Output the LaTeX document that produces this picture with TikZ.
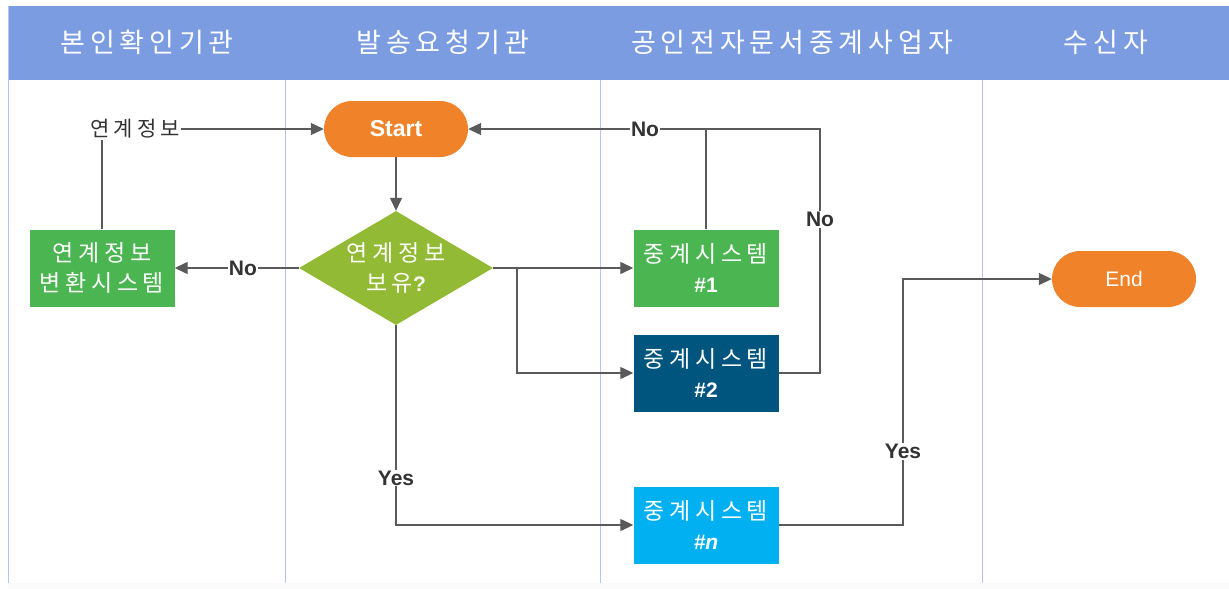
\documentclass[tikz,border=0pt]{standalone}
\usepackage{fontspec}
\setmainfont{Liberation Sans}
\newfontfamily\krhead[LetterSpace=18]{Noto Sans CJK KR}
\newfontfamily\krbox[LetterSpace=20]{Noto Sans CJK KR}
\newfontfamily\krlab[LetterSpace=20]{Noto Sans CJK KR}
\newcommand\latb{\normalfont\bfseries\fontsize{21}{24}\selectfont}
\usetikzlibrary{arrows.meta,shapes.geometric,shapes.misc}
\definecolor{headblue}{HTML}{7B9CE0}
\definecolor{laneline}{HTML}{B7C4EC}
\definecolor{orng}{HTML}{F0832A}
\definecolor{gbox}{HTML}{4BB551}
\definecolor{dgreen}{HTML}{92BA34}
\definecolor{dblue}{HTML}{00557F}
\definecolor{cyanb}{HTML}{00B0F0}
\definecolor{conn}{HTML}{5A5A5A}
\definecolor{lbl}{HTML}{333333}
\tikzset{
  headtxt/.style={text=white,font=\krhead\fontsize{27}{30}\selectfont},
  term/.style={rounded rectangle,fill=orng,minimum width=144pt,minimum height=56pt,text=white,inner sep=0pt},
  sysbox/.style={rectangle,minimum width=145pt,minimum height=77pt,text=white,align=center,inner sep=0pt,font=\krbox\fontsize{23}{30}\selectfont},
  decision/.style={diamond,fill=dgreen,minimum width=194pt,minimum height=114pt,aspect=1.7,inner sep=0pt,text=white,align=center,font=\krbox\fontsize{23}{30}\selectfont},
  cline/.style={draw=conn,line width=1.3pt},
  carrow/.style={cline,-{Triangle[length=13pt,width=12pt]}},
  lab/.style={text=lbl,font=\latb,fill=white,inner sep=1pt}
}
\begin{document}
\begin{tikzpicture}[x=1pt,y=-1pt]
\useasboundingbox (0,0) rectangle (1229,589);
\fill[white] (0,0) rectangle (1229,589);
% lanes
\fill[headblue] (8,6) rectangle (1229,80);
\draw[laneline,line width=0.8pt] (8,6) -- (8,587);
\draw[laneline,line width=0.8pt] (285,80) -- (285,589);
\draw[laneline,line width=0.8pt] (600,80) -- (600,589);
\draw[laneline,line width=0.8pt] (982,80) -- (982,589);
\fill[black!1.5] (8,583) rectangle (1229,589);
\node[headtxt] (h1) at (147,42) {본인확인기관};
\node[headtxt] (h2) at (443,42) {발송요청기관};
\node[headtxt] (h3) at (792,42) {공인전자문서중계사업자};
\node[headtxt] (h4) at (1106,42) {수신자};
% nodes
\node[term,font=\normalfont\bfseries\fontsize{23}{26}\selectfont] (start) at (396,129) {Start};
\node[decision] (dec) at (396,268) {연계정보\\보유{\latb ?}};
\node[sysbox,fill=gbox] (conv) at (102,268) {연계정보\\변환시스템};
\node[sysbox,fill=gbox] (s1) at (706,268) {중계시스템\\{\latb \#1}};
\node[sysbox,fill=dblue] (s2) at (706,373) {중계시스템\\{\latb \#2}};
\node[sysbox,fill=cyanb] (sn) at (706,525) {중계시스템\\{\latb\itshape \#n}};
\node[term,font=\normalfont\fontsize{21}{24}\selectfont] (end) at (1124,279) {End};
\node[font=\krlab\fontsize{21}{24}\selectfont,text=black!80,inner sep=1pt] (info) at (135,129) {연계정보};
% coordinates
\coordinate (j1) at (517,268);
\coordinate (r1) at (820,129);
\coordinate (t1) at (706,129);
\coordinate (r2) at (820,373);
\coordinate (yb) at (396,525);
\coordinate (ye) at (903,525);
\coordinate (yt) at (903,279);
% connectors
\draw[carrow] (info.east) -- (start.west);
\draw[cline] (info.south -| conv.north) -- (conv.north);
\draw[carrow] (start.south) -- (dec.north);
\draw[carrow] (dec.west) -- node[lab,pos=0.45]{No} (conv.east);
\draw[carrow] (dec.east) -- (s1.west);
\draw[carrow] (j1) -- (j1 |- s2.west) -- (s2.west);
\draw[cline] (s1.north) -- (t1);
\draw[carrow] (r1) -- (start.east);
\node[lab] (no1) at (645,129) {No};
\draw[cline] (s2.east) -- (r2) -- node[lab,pos=0.63]{No} (r1) -- (t1);
\draw[carrow] (dec.south) -- node[lab,pos=0.765]{Yes} (yb) -- (sn.west);
\draw[carrow] (sn.east) -- (ye) -- node[lab,pos=0.3]{Yes} (yt) -- (end.west);
\end{tikzpicture}
\end{document}
